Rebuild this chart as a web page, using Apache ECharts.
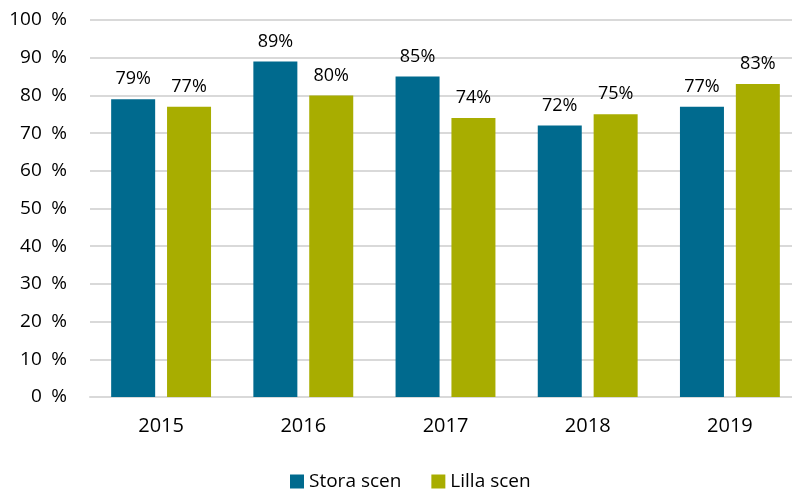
<!DOCTYPE html>
<html>
<head>
<meta charset="utf-8">
<script src="https://cdn.jsdelivr.net/npm/echarts@6/dist/echarts.min.js"></script>
<style>
  html, body { margin: 0; padding: 0; background: #fff; overflow: hidden; }
  #myChart { width: 801px; height: 489px; }
</style>
</head>
<body>
<div id="myChart"></div>
<script>
// år och andel
var years = ['2015', '2016', '2017', '2018', '2019'];
var storaScen = [79, 89, 85, 72, 77];
var lillaScen = [77, 80, 74, 75, 83];
var yTicks = [0, 10, 20, 30, 40, 50, 60, 70, 80, 90, 100];

var fontFamily = '"Open Sans", "Liberation Sans", sans-serif';
var myChart = echarts.init(document.getElementById('myChart'));
var option = {
    color: ['#006a8e', '#a8ad00'],
    animation: false,
    grid: {
        left: 90,
        top: 20,
        right: 0,
        height: 377
    },
    legend: {
        data: ['Stora scen', 'Lilla scen'],
        top: 467,
        left: 285,
        itemWidth: 14,
        itemHeight: 14,
        itemGap: 30,
        icon: 'rect',
        textStyle: {
            fontFamily: fontFamily,
            fontSize: 19,
            color: '#000'
        }
    },
    xAxis: {
        type: 'category',
        data: years,
        axisTick: { show: false },
        axisLine: {
            lineStyle: { color: '#d9d9d9', width: 2 }
        },
        axisLabel: {
            margin: 19,
            fontFamily: fontFamily,
            fontSize: 20,
            color: '#000'
        }
    },
    yAxis: {
        type: 'value',
        min: yTicks[0],
        max: yTicks[yTicks.length - 1],
        interval: 10,
        splitLine: {
            lineStyle: { color: '#d9d9d9', width: 2 }
        },
        axisLabel: {
            margin: 23,
            fontFamily: fontFamily,
            fontSize: 19,
            color: '#000',
            formatter: '{value}\u2002%'
        }
    },
    series: [{
        name: 'Stora scen',
        type: 'bar',
        data: storaScen,
        barWidth: 44,
        barGap: '27%',
        label: {
            show: true,
            position: 'top',
            distance: 11,
            formatter: '{c}%',
            fontFamily: fontFamily,
            fontSize: 18,
            color: '#000'
        }
    }, {
        name: 'Lilla scen',
        type: 'bar',
        data: lillaScen,
        barWidth: 44,
        barGap: '27%',
        label: {
            show: true,
            position: 'top',
            distance: 11,
            formatter: '{c}%',
            fontFamily: fontFamily,
            fontSize: 18,
            color: '#000'
        }
    }]
};
myChart.setOption(option);
</script>
</body>
</html>
